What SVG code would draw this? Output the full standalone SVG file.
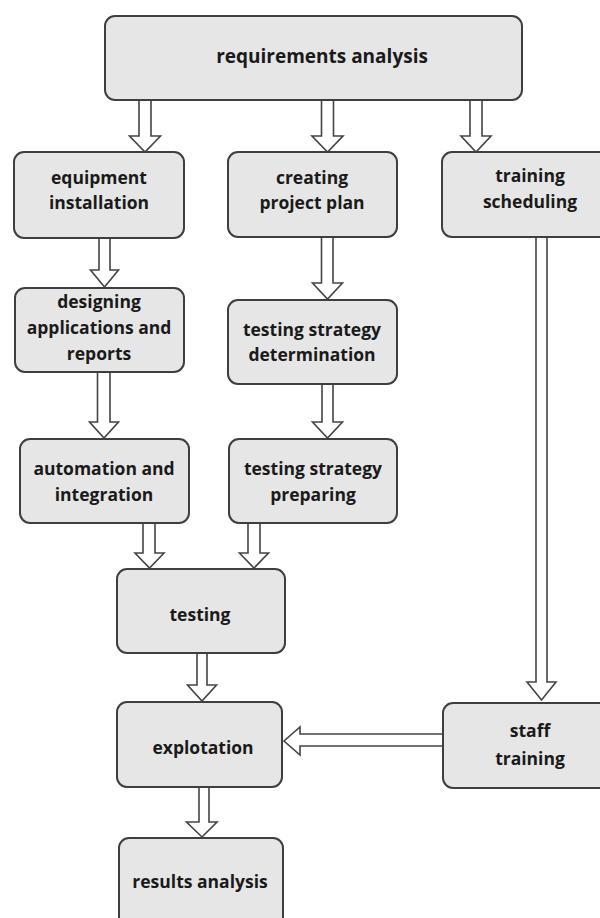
<svg xmlns="http://www.w3.org/2000/svg" width="600" height="918" viewBox="0 0 600 918">
<style>
.box{fill:#e6e6e6;stroke:#3f3f3f;stroke-width:2}
.arr{fill:#ffffff;stroke:#444444;stroke-width:1.6;stroke-linejoin:miter}
text{font-family:"Open Sans","Liberation Sans",sans-serif;font-weight:bold;font-size:17.5px;fill:#1a1a1a;text-anchor:middle}
.big{font-size:19px}
</style>
<rect width="600" height="918" fill="#ffffff"/>
<g id="connectors">
<path class="arr" d="M139,100 V136 H129.5 L145,152 L160.5,136 H151 V100 Z"/>
<path class="arr" d="M321.5,100 V136 H312 L327.5,152 L343,136 H333.5 V100 Z"/>
<path class="arr" d="M470,100 V136 H461 L476,152 L491,136 H482 V100 Z"/>
<path class="arr" d="M99,238 V270 H90.5 L104.5,287 L118.5,270 H110 V238 Z"/>
<path class="arr" d="M321.5,237 V283 H312.5 L327.5,299 L342.5,283 H333 V237 Z"/>
<path class="arr" d="M536,237 V682 H527 L541.5,700 L556,682 H547 V237 Z"/>
<path class="arr" d="M97.5,372 V422 H89.5 L104,438 L118.5,422 H110 V372 Z"/>
<path class="arr" d="M322,384 V422 H312.5 L327.5,438 L342.5,422 H333 V384 Z"/>
<path class="arr" d="M143,523 V553 H135 L149.5,568 L164,553 H155 V523 Z"/>
<path class="arr" d="M248,523 V553 H239.5 L254,568 L268.5,553 H260 V523 Z"/>
<path class="arr" d="M197,653 V685 H187.5 L202,701 L216.5,685 H207 V653 Z"/>
<path class="arr" d="M199,787 V822 H186.5 L202,837 L217,822 H209 V787 Z"/>
<path class="arr" d="M443,734 H300 V727 L284,741 L300,755 V746 H443 Z"/>
</g>
<g id="n_requirements"><rect class="box" x="105" y="16" width="417" height="84" rx="10"/><text class="big" x="322" y="63">requirements analysis</text></g>
<g id="n_equipment"><rect class="box" x="14" y="152" width="170" height="86" rx="10"/><text x="99" y="184">equipment</text><text x="99" y="209">installation</text></g>
<g id="n_creating"><rect class="box" x="228" y="152" width="169" height="85" rx="10"/><text x="312" y="184">creating</text><text x="312" y="209">project plan</text></g>
<g id="n_training_sched"><rect class="box" x="442" y="152" width="170" height="85" rx="10"/><text x="530" y="182">training</text><text x="530" y="208">scheduling</text></g>
<g id="n_designing"><rect class="box" x="15" y="288" width="169" height="84" rx="10"/><text x="99" y="308">designing</text><text x="99" y="334">applications and</text><text x="99" y="360">reports</text></g>
<g id="n_tsd"><rect class="box" x="228" y="300" width="169" height="84" rx="10"/><text x="312" y="336">testing strategy</text><text x="312" y="361">determination</text></g>
<g id="n_automation"><rect class="box" x="20" y="439" width="169" height="84" rx="10"/><text x="104" y="475">automation and</text><text x="104" y="501">integration</text></g>
<g id="n_tsp"><rect class="box" x="229" y="439" width="168" height="84" rx="10"/><text x="313" y="475">testing strategy</text><text x="313" y="501">preparing</text></g>
<g id="n_testing"><rect class="box" x="117" y="569" width="168" height="84" rx="10"/><text x="200" y="621">testing</text></g>
<g id="n_explotation"><rect class="box" x="117" y="702" width="165" height="85" rx="10"/><text x="203" y="754">explotation</text></g>
<g id="n_staff"><rect class="box" x="443" y="703" width="170" height="85" rx="10"/><text x="530" y="737">staff</text><text x="530" y="765">training</text></g>
<g id="n_results"><rect class="box" x="119" y="838" width="164" height="90" rx="10"/><text x="200" y="888">results analysis</text></g>
</svg>
